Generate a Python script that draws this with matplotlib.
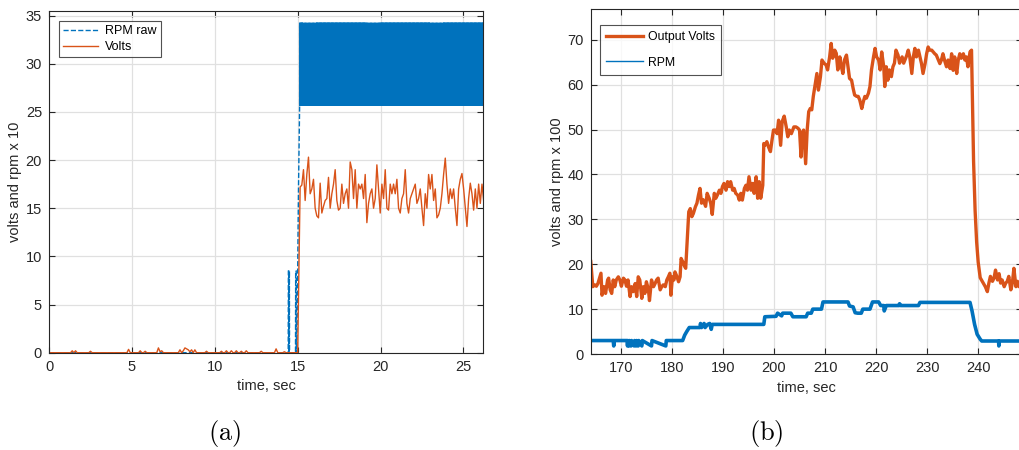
import matplotlib.pyplot as plt
import numpy as np
from matplotlib.lines import Line2D

plt.rcParams['font.family'] = ['Liberation Sans', 'DejaVu Sans']
plt.rcParams['mathtext.fontset'] = 'cm'

blue = "#0072BD"
orange = "#D95319"
dark = "#262626"

# ---- panel (a) data ----
volts_pre_t = [0, 1.3, 1.4, 1.5, 1.6, 1.7, 2.4, 2.5, 2.6, 4.7, 4.8, 4.9, 5.4, 5.5, 5.6,
               5.7, 5.8, 5.9, 6.5, 6.6, 6.7, 6.8, 6.9, 7.8, 7.9, 8.0, 8.1, 8.2, 8.3,
               8.4, 8.5, 8.6, 8.7, 8.8, 8.9, 9.4, 9.5, 9.6, 10.3, 10.4, 10.5, 10.6,
               10.7, 10.8, 10.9, 11.0, 11.1, 11.2, 11.3, 11.4, 11.5, 11.6, 11.7, 11.8,
               11.9, 12.0, 12.7, 12.8, 12.9, 13.6, 13.7, 13.8, 14.1, 14.2, 14.3, 15.0]
volts_pre_v = [0, 0, 0.2, 0, 0.2, 0, 0, 0.15, 0, 0, 0.35, 0, 0, 0.2, 0,
               0, 0.15, 0, 0, 0.5, 0.1, 0.2, 0, 0, 0.3, 0, 0.2, 0.5, 0.4,
               0.3, 0.1, 0.3, 0, 0.3, 0, 0, 0.15, 0, 0, 0.15, 0, 0,
               0.2, 0, 0, 0.2, 0, 0, 0.2, 0, 0, 0.15, 0, 0,
               0.2, 0, 0, 0.15, 0, 0, 0.4, 0, 0, 0.1, 0, 0]

# Volts after start-up, sampled ~0.1 s from 15.15 s to 26.2 s
volts_run = [17.2, 17.4, 19.0, 15.8, 18.5, 20.3, 16.5, 17.0, 18.0, 15.0, 14.2, 14.0,
             17.6, 14.5, 15.2, 15.8, 16.0, 18.2, 15.0, 16.5, 17.5, 19.0, 15.8, 14.8,
             15.0, 17.5, 15.5, 16.5, 17.0, 15.0, 19.8, 19.0, 16.0, 19.0, 15.0, 17.5,
             17.0, 17.5, 16.0, 18.5, 13.5, 15.5, 16.5, 17.0, 15.0, 16.0, 19.5, 17.0,
             14.5, 17.5, 16.0, 19.0, 15.0, 14.8, 17.5, 16.5, 17.5, 16.5, 18.0, 15.0,
             14.5, 16.0, 16.5, 19.0, 15.5, 14.5, 16.0, 16.5, 17.0, 17.5, 15.5, 16.0,
             17.0, 15.0, 13.2, 16.5, 15.0, 18.5, 17.0, 18.5, 15.8, 17.0, 14.0, 14.3,
             15.0, 16.5, 18.5, 20.2, 17.5, 15.5, 17.0, 16.0, 17.0, 15.0, 13.2, 17.0,
             18.0, 18.6, 17.0, 15.0, 13.1, 16.0, 17.6, 16.5, 14.8, 17.0, 15.0, 17.5,
             15.5, 17.5, 15.8]
volts_run_start = 15.15
volts_run_end = 26.22

rpm_raw_t = [0, 14.43, 14.44, 14.47, 14.48, 14.50, 14.51, 14.87, 14.88, 14.91, 14.92,
             14.95, 15.05, 15.12]
rpm_raw_v = [0, 0, 8.5, 8.5, 0, 8.5, 0, 0, 8.5, 8.5, 0, 0, 17.0, 25.7]
rpm_raw_levels = [34.2, 25.7]
rpm_raw_band = (15.12, 26.25)

# ---- panel (b) data ----
volts_b_t = [164.1, 164.5, 164.9, 165.2, 165.5, 166.1, 166.3, 166.7, 167.0, 167.4,
             167.6, 167.9, 168.2, 168.5, 168.8, 169.1, 169.5, 169.8, 170.1, 170.5,
             170.8, 171.1, 171.4, 171.8, 172.1, 172.4, 172.8, 173.1, 173.4, 173.7,
             174.1, 174.4, 174.7, 175.0, 175.4, 175.6, 176.0, 176.4, 176.7, 177.0,
             177.3, 177.7, 178.0, 178.3, 178.7, 179.0, 179.3, 179.6, 179.8, 180.1,
             180.4, 180.6, 181.0, 181.3, 181.6, 181.8, 182.1, 182.5, 182.7, 183.3,
             183.6, 183.9, 184.2, 184.6, 184.9, 185.2, 185.5, 185.8, 186.1, 186.6,
             186.9, 187.3, 187.6, 187.9, 188.3, 188.6, 188.9, 189.3, 189.6, 189.9,
             190.2, 190.6, 190.9, 191.2, 191.5, 191.9, 192.2, 192.5, 192.9, 193.2,
             193.5, 193.8, 194.2, 194.5, 194.8, 195.1, 195.5, 195.8, 196.1, 196.5,
             196.8, 197.1, 197.4, 197.8, 198.0, 198.2, 198.6, 198.9, 199.3, 199.6,
             199.9, 200.3, 200.6, 200.9, 201.3, 201.6, 202.0, 202.4, 202.7, 203.0,
             203.4, 203.9, 204.3, 204.7, 205.0, 205.3, 205.5, 205.8, 206.2, 206.5,
             206.8, 207.1, 207.4, 207.7, 208.1, 208.4, 208.7, 209.1, 209.4, 209.8,
             210.2, 210.5, 210.9, 211.2, 211.5, 211.9, 212.2, 212.5, 212.9, 213.2,
             213.5, 213.8, 214.2, 214.5, 214.8, 215.2, 215.5, 215.8, 216.2, 216.5,
             216.8, 217.2, 217.5, 217.8, 218.1, 218.5, 218.8, 219.1, 219.5, 219.8,
             220.1, 220.5, 220.8, 221.1, 221.5, 221.7, 222.0, 222.3, 222.6, 223.0,
             223.3, 223.6, 223.9, 224.3, 224.6, 225.1, 225.4, 226.0, 226.3, 226.6,
             227.0, 227.3, 227.6, 227.9, 228.3, 228.6, 228.9, 229.2, 229.6, 229.9,
             230.2, 230.5, 230.9, 231.2, 231.5, 231.8, 232.2, 232.5, 232.8, 233.1,
             233.5, 233.8, 234.1, 234.5, 234.8, 235.1, 235.4, 235.8, 236.1, 236.4,
             236.7, 237.1, 237.4, 237.7, 238.0, 238.4, 238.7, 238.9, 239.1, 239.4,
             239.7, 240.0, 240.4, 241.0, 241.4, 241.8, 242.1, 242.4, 242.8, 243.1,
             243.4, 243.8, 244.1, 244.4, 244.7, 245.1, 245.4, 245.7, 246.0, 246.4,
             246.7, 247.0, 247.4, 247.7, 248.0, 248.3, 248.6]
volts_b_v = [20.6, 15.0, 15.4, 15.1, 15.7, 18.0, 13.1, 15.0, 13.5, 16.5,
             16.9, 14.3, 13.5, 16.5, 15.0, 16.5, 17.2, 16.5, 15.1, 16.9,
             16.5, 15.1, 16.5, 12.8, 15.0, 13.9, 15.7, 12.8, 17.2, 16.5,
             12.4, 15.0, 13.5, 16.1, 14.3, 11.9, 16.5, 15.0, 15.7, 16.5,
             16.9, 14.3, 15.0, 15.4, 15.0, 16.5, 17.2, 18.0, 13.1, 17.2,
             16.5, 18.3, 17.2, 16.1, 17.2, 21.3, 20.6, 19.5, 19.1, 31.7,
             32.4, 30.6, 31.3, 32.8, 33.6, 35.4, 36.9, 33.6, 34.4, 32.9,
             35.8, 34.7, 33.6, 31.1, 35.8, 34.7, 35.4, 36.5, 35.8, 37.3,
             38.0, 36.5, 38.4, 37.3, 38.4, 36.5, 36.9, 35.8, 35.4, 34.3,
             35.8, 34.3, 36.9, 37.6, 36.5, 39.5, 36.5, 38.0, 35.8, 39.5,
             34.7, 38.4, 34.7, 37.6, 46.9, 46.5, 47.3, 46.2, 45.1, 47.6,
             49.9, 49.9, 49.1, 52.1, 46.5, 51.8, 53.0, 50.6, 48.4, 49.9,
             49.1, 50.6, 50.6, 50.3, 49.9, 43.9, 49.1, 49.9, 42.4, 49.9,
             54.0, 54.7, 54.4, 57.4, 60.3, 62.5, 58.8, 61.8, 65.5, 64.8,
             64.4, 63.3, 66.2, 69.2, 65.9, 67.7, 67.0, 63.3, 66.2, 64.0,
             62.5, 65.5, 66.6, 64.0, 61.4, 61.0, 59.2, 57.7, 57.4, 57.4,
             56.6, 54.7, 56.2, 57.4, 57.0, 58.1, 59.6, 63.3, 66.2, 68.1,
             66.2, 65.5, 63.3, 67.3, 64.0, 59.6, 64.0, 61.0, 63.3, 61.8,
             64.0, 64.8, 67.7, 66.6, 64.8, 66.2, 64.8, 66.5, 67.7, 66.2,
             62.5, 66.2, 68.1, 66.2, 67.7, 66.2, 64.7, 62.5, 64.7, 66.9,
             68.4, 67.7, 67.7, 67.3, 66.9, 66.6, 65.5, 64.7, 65.5, 66.9,
             65.1, 64.0, 65.5, 63.6, 66.9, 63.2, 66.2, 62.5, 65.5, 66.9,
             65.9, 66.9, 65.5, 66.2, 64.0, 67.3, 67.7, 55.0, 43.0, 32.0,
             25.0, 20.5, 17.0, 15.8, 15.0, 13.9, 15.8, 17.3, 16.2, 16.9,
             18.7, 16.5, 17.9, 15.8, 16.5, 15.0, 15.8, 16.2, 17.3, 14.3,
             15.8, 19.1, 15.0, 16.2, 15.0, 15.4, 14.8]

rpm_b_t = [164.1, 168.5, 168.6, 168.7, 171.2, 171.3, 171.4, 171.6, 171.7, 172.0,
           172.1, 172.6, 172.7, 173.0, 173.1, 173.4, 173.5, 174.1, 174.2, 176.0,
           176.1, 178.8, 178.9, 182.1, 182.5, 182.9, 183.4, 185.5, 185.6, 185.8,
           186.3, 186.5, 187.0, 187.4, 187.7, 187.9, 198.0, 198.2, 200.4, 200.7,
           201.5, 201.7, 203.3, 203.7, 206.3, 206.6, 207.3, 207.6, 209.3, 209.6,
           214.5, 214.8, 215.5, 215.9, 216.4, 217.1, 217.4, 218.8, 219.3, 220.5,
           220.9, 221.5, 221.6, 222.0, 224.5, 224.6, 224.8, 228.3, 228.6, 238.4,
           238.8, 239.3, 239.8, 240.4, 240.7, 244.0, 244.05, 244.1, 248.3, 248.35,
           248.6]
rpm_b_v = [3.0, 3.0, 1.8, 3.0, 3.0, 1.8, 3.0, 1.8, 3.0, 1.8,
           3.0, 1.8, 3.0, 1.8, 3.0, 1.8, 3.0, 1.8, 3.0, 1.8,
           3.0, 1.8, 3.0, 3.0, 4.2, 5.0, 5.9, 5.9, 6.8, 5.9,
           6.8, 5.9, 6.6, 6.8, 5.5, 6.6, 6.6, 8.3, 8.4, 9.1,
           8.5, 9.1, 9.1, 8.3, 8.3, 9.1, 9.1, 10.0, 10.0, 11.6,
           11.6, 10.7, 10.5, 9.2, 9.1, 9.1, 10.0, 10.0, 11.6, 11.6,
           10.8, 10.8, 9.6, 10.8, 10.8, 11.2, 10.8, 10.8, 11.5, 11.5,
           9.6, 6.6, 4.4, 3.3, 2.9, 2.9, 1.8, 2.9, 2.9, 1.8,
           2.9]


def style(ax):
    ax.grid(True, color="#e0e0e0", lw=0.9)
    ax.set_axisbelow(True)
    ax.tick_params(direction="in", top=True, right=True, length=4,
                   width=0.8, colors=dark, labelsize=10.5, pad=5)
    for s in ax.spines.values():
        s.set_color(dark)
        s.set_linewidth(0.8)


fig = plt.figure(figsize=(10.19, 4.5), dpi=100)

# ---- (a) ----
ax1 = fig.add_axes([0.0481, 0.2162, 0.4262, 0.7600])

volts_t = list(volts_pre_t) + list(np.linspace(volts_run_start, volts_run_end, len(volts_run)))
volts_v = list(volts_pre_v) + list(volts_run)

band_t = np.linspace(rpm_raw_band[0], rpm_raw_band[1], 1100)
band_v = np.resize(rpm_raw_levels, len(band_t))
raw_t = list(rpm_raw_t) + list(band_t)
raw_v = list(rpm_raw_v) + list(band_v)

ax1.plot(raw_t, raw_v, color=blue, lw=1.0, ls="--", label="RPM raw")
ax1.plot(volts_t, volts_v, color=orange, lw=1.0, label="Volts")

ax1.set_xlim(0, 26.2)
ax1.set_ylim(0, 35.5)
ax1.set_xticks(np.arange(0, 26, 5))
ax1.set_yticks(np.arange(0, 36, 5))
style(ax1)
ax1.set_xlabel("time, sec", fontsize=10.5, color=dark, labelpad=4)
ax1.set_ylabel("volts and rpm x 10", fontsize=10.5, color=dark, labelpad=3)

leg1 = ax1.legend(loc="upper left", bbox_to_anchor=(0.023, 0.97), borderaxespad=0,
                  fancybox=False, edgecolor=dark, fontsize=9, handlelength=2.8,
                  labelspacing=0.3, borderpad=0.35, handletextpad=0.5)
leg1.get_frame().set_linewidth(0.8)

# ---- (b) ----
ax2 = fig.add_axes([0.58, 0.2133, 0.423, 0.7660])
ax2.plot(volts_b_t, volts_b_v, color=orange, lw=2.4)
ax2.plot(rpm_b_t, rpm_b_v, color=blue, lw=2.6)

ax2.set_xlim(164.15, 248.6)
ax2.set_ylim(0, 76.8)
ax2.set_xticks(np.arange(170, 241, 10))
ax2.set_yticks(np.arange(0, 71, 10))
style(ax2)
ax2.set_xlabel("time, sec", fontsize=10.5, color=dark, labelpad=4)
ax2.set_ylabel("volts and rpm x 100", fontsize=10.5, color=dark, labelpad=3)

handles = [Line2D([], [], color=orange, lw=2.4), Line2D([], [], color=blue, lw=1.0)]
leg2 = ax2.legend(handles, ["Output Volts", "RPM"], loc="upper left",
                  bbox_to_anchor=(0.021, 0.954), borderaxespad=0, fancybox=False,
                  edgecolor=dark, fontsize=8.8, handlelength=3.0, labelspacing=1.1,
                  borderpad=0.5, handletextpad=0.4)
leg2.get_frame().set_linewidth(0.8)

fig.text(0.22, 0.037, r"$\mathrm{(a)}$", fontsize=19, ha="center", va="center")
fig.text(0.752, 0.037, r"$\mathrm{(b)}$", fontsize=19, ha="center", va="center")

fig.savefig("out.png", dpi=100)
